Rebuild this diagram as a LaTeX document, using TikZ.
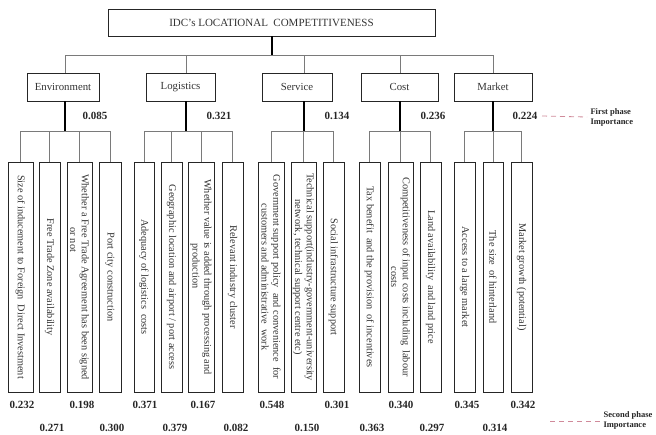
\documentclass[tikz,border=0pt]{standalone}
\usepackage{fontspec}
\setmainfont{Liberation Serif}
\definecolor{txt}{HTML}{333333}
\definecolor{thinline}{HTML}{7A7A7A}
\definecolor{dashred}{HTML}{D08A9A}
\begin{document}
\begin{tikzpicture}[x=1pt,y=-1pt,
  box/.style={draw=black!85, line width=0.8pt, inner sep=1pt, text=txt},
  titlebox/.style={box, minimum width=327pt, minimum height=27pt, font=\fontsize{11}{12}\selectfont},
  catbox/.style={box, minimum height=28pt, font=\fontsize{10.8}{12}\selectfont},
  leaf/.style={box, rotate=-90, minimum width=230pt, align=center, inner sep=1pt,
     font=\fontsize{10.3}{11.8}\selectfont},
  thinconn/.style={draw=thinline, line width=0.8pt},
  thickconn/.style={draw=black, line width=1.5pt},
  val/.style={font=\fontsize{11}{12}\selectfont\bfseries, text=black!85},
  side/.style={font=\fontsize{8.5}{10}\selectfont\bfseries, align=left, anchor=west, text=black!85},
  phasedash/.style={draw=dashred, line width=0.8pt, dash pattern=on 5pt off 4pt}
]
\useasboundingbox (0,0) rectangle (656,434);

% title
\node[titlebox] (title) at (271.5,22.5) {IDC’s LOCATIONAL~~COMPETITIVENESS};
\coordinate (jtop) at (272,55);

% categories
\node[catbox, minimum width=72pt] (env) at (63,87) {Environment};
\node[catbox, minimum width=69pt] (log) at (180.5,87) {Logistics};
\node[catbox, minimum width=70pt] (ser) at (297,87) {Service};
\node[catbox, minimum width=77pt] (cos) at (399.5,87) {Cost};
\node[catbox, minimum width=78pt] (mar) at (493,87) {Market};

% junctions
\coordinate (jenv) at (65,131);
\coordinate (jlog) at (186,131);
\coordinate (jser) at (304,131);
\coordinate (jcos) at (400,131);
\coordinate (jmar) at (493,131);

% top connectors
\draw[thinconn] (env.north -| jenv) |- (jtop);
\draw[thinconn] (log.north -| jlog) |- (jtop);
\draw[thinconn] (ser.north -| jser) |- (jtop);
\draw[thinconn] (cos.north -| jcos) |- (jtop);
\draw[thinconn] (mar.north -| jmar) |- (jtop);
\draw[thickconn] (title.south -| jtop) -- (jtop);

% leaves
\node[leaf, minimum height=25pt] (e1) at (20.5,277) {Size of inducement to Foreign~ Direct Investment};
\node[leaf, minimum height=21pt] (e2) at (49.5,277) {Free Trade Zone availability};
\node[leaf, minimum height=25pt] (e3) at (79.5,277) {Whether a Free Trade Agreement has been signed\\ or not\hspace*{74pt}};
\node[leaf, minimum height=22pt] (e4) at (110,277) {Port city construction};

\node[leaf, minimum height=20pt] (l1) at (144,277) {Adequacy of logistics~ costs};
\node[leaf, minimum height=21pt] (l2) at (171.5,277) {Geographic location and airport / port access};
\node[leaf, minimum height=26pt] (l3) at (201,277) {Whether value is added through processing and\\ production\hspace*{22pt}};
\node[leaf, minimum height=21pt] (l4) at (232.5,277) {Relevant industry cluster};

\node[leaf, minimum height=26pt] (s1) at (271,277) {Government support policy~ and convenience~ for\\ customers and administrative~ work};
\node[leaf, minimum height=25pt] (s2) at (303.5,277) {Technical support(industry-government-university\\ network, technical support centre etc)};
\node[leaf, minimum height=21pt] (s3) at (333.5,277) {Social infrastructure support};

\node[leaf, minimum height=21pt] (c1) at (369.5,277) {Tax benefit~ and the provision~ of incentives};
\node[leaf, minimum height=25pt] (c2) at (400.5,277) {Competitiveness of input costs including~ labour\\ costs};
\node[leaf, minimum height=21pt] (c3) at (430.5,277) {Land availability~ and land price};

\node[leaf, minimum height=21pt] (m1) at (464.5,277) {Access to a large market};
\node[leaf, minimum height=20pt] (m2) at (493,277) {The size~ of hinterland};
\node[leaf, minimum height=21pt] (m3) at (521.5,277) {Market growth (potential)};

% leaf connectors
\foreach \n in {e1,e2,e3,e4} \draw[thinconn] (\n.west) |- (jenv);
\foreach \n in {l1,l2,l3,l4} \draw[thinconn] (\n.west) |- (jlog);
\foreach \n in {s1,s2,s3} \draw[thinconn] (\n.west) |- (jser);
\foreach \n in {c1,c2,c3} \draw[thinconn] (\n.west) |- (jcos);
\foreach \n in {m1,m2,m3} \draw[thinconn] (\n.west) |- (jmar);

\draw[thickconn] (env.south -| jenv) -- (jenv);
\draw[thickconn] (log.south -| jlog) -- (jlog);
\draw[thickconn] (ser.south -| jser) -- (jser);
\draw[thickconn] (cos.south -| jcos) -- (jcos);
\draw[thickconn] (mar.south -| jmar) -- (jmar);

% first phase values
\node[val] (venv) at (95,116) {0.085};
\node[val] (vlog) at (219,116) {0.321};
\node[val] (vser) at (337,116) {0.134};
\node[val] (vcos) at (433,116) {0.236};
\node[val] (vmar) at (525,116) {0.224};

% second phase values
\node[val] (ve1) at (22,405) {0.232};
\node[val] (ve3) at (82,405) {0.198};
\node[val] (vl1) at (145,405) {0.371};
\node[val] (vl3) at (203,405) {0.167};
\node[val] (vs1) at (272,405) {0.548};
\node[val] (vs3) at (337,405) {0.301};
\node[val] (vc2) at (401,405) {0.340};
\node[val] (vm1) at (467,405) {0.345};
\node[val] (vm3) at (523,405) {0.342};

\node[val] (ve2) at (52,428) {0.271};
\node[val] (ve4) at (112,428) {0.300};
\node[val] (vl2) at (175,428) {0.379};
\node[val] (vl4) at (236,428) {0.082};
\node[val] (vs2) at (307,428) {0.150};
\node[val] (vc1) at (372,428) {0.363};
\node[val] (vc3) at (432,428) {0.297};
\node[val] (vm2) at (495,428) {0.314};

% legend
\node[side] (first) at (587,117) {First phase\\Importance};
\coordinate (d1a) at (542,116);
\draw[phasedash] (d1a) -- (first.west);
\node[side] (second) at (600,420) {Second phase\\Importance};
\coordinate (d2a) at (550,421);
\draw[phasedash] (d2a) -- (second.west |- d2a);
\end{tikzpicture}
\end{document}
